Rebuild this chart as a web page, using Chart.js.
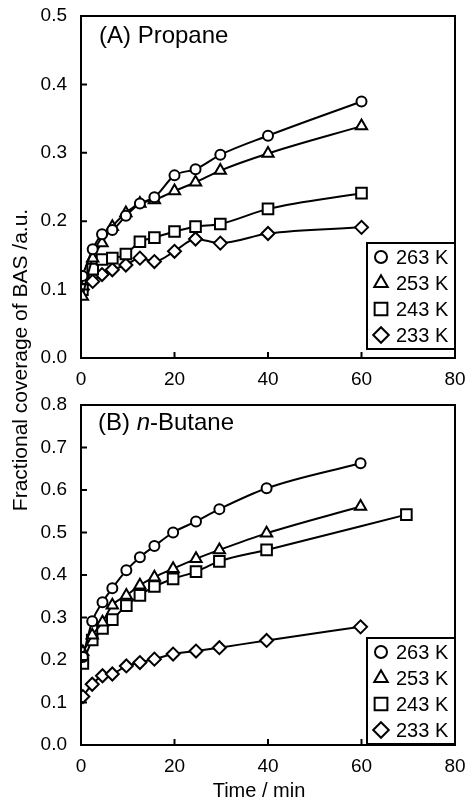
<!DOCTYPE html>
<html>
<head>
<meta charset="utf-8">
<script src="https://cdn.jsdelivr.net/npm/chart.js@4.4.1/dist/chart.umd.min.js"></script>
<style>
  body { margin: 0; background: #fff; }
  #wrap { position: relative; width: 468px; height: 800px; overflow: hidden; font-family: "Liberation Sans", Arial, sans-serif; color: #000; }
  #c1 { position: absolute; left: 0; top: 0; }
  #c2 { position: absolute; left: 0; top: 388px; }
  #ytitle {
    position: absolute; left: -180px; top: 348px; width: 400px; height: 24px;
    line-height: 24px; text-align: center; font-size: 21px;
    transform: rotate(-90deg); white-space: nowrap;
  }
  #xtitle {
    position: absolute; left: 159px; top: 778px; width: 200px; height: 24px;
    line-height: 24px; text-align: center; font-size: 20px; white-space: nowrap;
  }
</style>
</head>
<body>
<div id="wrap">
  <canvas id="c1" width="468" height="388"></canvas>
  <canvas id="c2" width="468" height="412"></canvas>
  <div id="ytitle">Fractional coverage of BAS /a.u.</div>
  <div id="xtitle">Time / min</div>
</div>
<script>
// series labels and marker shapes
const seriesLabels = ['263 K', '253 K', '243 K', '233 K'];
const markerStyles = ['circle', 'triangle', 'rect', 'rectRot'];
const xTicks = [0, 20, 40, 60, 80];

// (A) Propane
const timesA = [0.3, 2.5, 4.5, 6.7, 9.6, 12.6, 15.7, 20, 24.5, 29.8, 40, 60];
const propane263 = [0.120, 0.159, 0.181, 0.187, 0.208, 0.226, 0.235, 0.267, 0.276, 0.297, 0.325, 0.375];
const propane253 = [0.090, 0.146, 0.168, 0.192, 0.212, 0.226, 0.231, 0.244, 0.257, 0.274, 0.299, 0.339];
const propane243 = [0.100, 0.130, 0.144, 0.146, 0.152, 0.170, 0.176, 0.185, 0.192, 0.196, 0.218, 0.241];
const propane233 = [0.100, 0.112, 0.122, 0.129, 0.136, 0.146, 0.141, 0.156, 0.174, 0.168, 0.182, 0.191];
const yTicksA = [0.0, 0.1, 0.2, 0.3, 0.4, 0.5];

// (B) n-Butane
const timesB = [0.4, 2.4, 4.6, 6.7, 9.7, 12.6, 15.7, 19.7, 24.6, 29.6, 39.7, 59.8];
const timesB243 = [0.4, 2.4, 4.6, 6.7, 9.7, 12.6, 15.7, 19.7, 24.6, 29.6, 39.7, 69.6];
const butane263 = [0.207, 0.291, 0.336, 0.369, 0.411, 0.442, 0.468, 0.500, 0.526, 0.555, 0.604, 0.663];
const butane253 = [0.219, 0.258, 0.289, 0.329, 0.352, 0.376, 0.395, 0.415, 0.438, 0.459, 0.498, 0.561];
const butane243 = [0.192, 0.247, 0.274, 0.295, 0.328, 0.352, 0.373, 0.391, 0.408, 0.432, 0.459, 0.542];
const butane233 = [0.114, 0.143, 0.163, 0.167, 0.186, 0.194, 0.202, 0.214, 0.221, 0.229, 0.246, 0.278];
const yTicksB = [0.0, 0.1, 0.2, 0.3, 0.4, 0.5, 0.6, 0.7, 0.8];

const FONT = '"Liberation Sans", Arial, sans-serif';
const markerRadius = { circle: 5, triangle: 6.5, rect: 7.5, rectRot: 6.5 };

function drawMarker(ctx, style, x, y, r) {
  ctx.beginPath();
  if (style === 'circle') {
    ctx.arc(x, y, r, 0, Math.PI * 2);
  } else if (style === 'triangle') {
    ctx.moveTo(x, y - r);
    ctx.lineTo(x + r * 0.866, y + r * 0.5);
    ctx.lineTo(x - r * 0.866, y + r * 0.5);
    ctx.closePath();
  } else if (style === 'rect') {
    const s = r * Math.SQRT1_2;
    ctx.rect(x - s, y - s, 2 * s, 2 * s);
  } else {
    ctx.moveTo(x - r, y);
    ctx.lineTo(x, y - r);
    ctx.lineTo(x + r, y);
    ctx.lineTo(x, y + r);
    ctx.closePath();
  }
  ctx.fillStyle = '#fff';
  ctx.fill();
  ctx.lineWidth = 2;
  ctx.strokeStyle = '#000';
  ctx.stroke();
}

// frame around the plot and short inward tick marks
const frameTicks = {
  id: 'frameTicks',
  afterDraw(chart) {
    const { ctx, chartArea: a, scales } = chart;
    ctx.save();
    ctx.strokeStyle = '#000';
    ctx.lineWidth = 2;
    ctx.strokeRect(a.left, a.top, a.right - a.left, a.bottom - a.top);
    ctx.beginPath();
    scales.x.ticks.forEach(t => {
      const px = scales.x.getPixelForValue(t.value);
      ctx.moveTo(px, a.bottom);
      ctx.lineTo(px, a.bottom - 6);
    });
    scales.y.ticks.forEach(t => {
      const py = scales.y.getPixelForValue(t.value);
      ctx.moveTo(a.left, py);
      ctx.lineTo(a.left + 6, py);
    });
    ctx.stroke();
    ctx.restore();
  }
};

// boxed legend in the lower right corner + panel label
const panelDecor = {
  id: 'panelDecor',
  afterDatasetsDraw(chart, args, opts) {
    const { ctx, chartArea: a } = chart;
    ctx.save();
    const w = 88, h = 106;
    const left = a.right - w, top = a.bottom - opts.gap - h;
    ctx.fillStyle = '#fff';
    ctx.fillRect(left, top, w, h);
    ctx.lineWidth = 2;
    ctx.strokeStyle = '#000';
    ctx.strokeRect(left, top, w, h);
    chart.data.datasets.forEach((ds, i) => {
      const cy = top + 14 + i * 26;
      drawMarker(ctx, ds.pointStyle, left + 14, cy, markerRadius[ds.pointStyle] * 1.2);
      ctx.fillStyle = '#000';
      ctx.font = '20px ' + FONT;
      ctx.textBaseline = 'middle';
      ctx.textAlign = 'left';
      ctx.fillText(ds.label, left + 29, cy + 1);
    });

    // panel title, with italic parts
    let x = a.left + opts.labelDx;
    const y = a.top + opts.labelDy;
    ctx.textBaseline = 'alphabetic';
    opts.label.forEach(part => {
      ctx.font = (part.italic ? 'italic ' : '') + '24px ' + FONT;
      ctx.fillText(part.text, x, y);
      x += ctx.measureText(part.text).width;
    });
    ctx.restore();
  }
};

function makeDatasets(timeLists, valueLists) {
  return valueLists.map((vals, i) => ({
    label: seriesLabels[i],
    data: vals.map((v, j) => ({ x: timeLists[i][j], y: v })),
    borderColor: '#000',
    borderWidth: 2,
    pointStyle: markerStyles[i],
    pointRadius: markerRadius[markerStyles[i]],
    pointBorderWidth: 2,
    pointBackgroundColor: '#fff',
    pointBorderColor: '#000',
    cubicInterpolationMode: 'monotone',
    fill: false
  }));
}

function makePanel(canvasId, datasets, yTicks, opts) {
  return new Chart(document.getElementById(canvasId), {
    type: 'line',
    data: { datasets: datasets },
    plugins: [panelDecor, frameTicks],
    options: {
      responsive: false,
      animation: false,
      layout: { padding: { top: opts.padTop, right: 13, left: 0, bottom: 0 } },
      plugins: {
        legend: { display: false },
        tooltip: { enabled: false },
        panelDecor: { gap: opts.gap, label: opts.label, labelDx: opts.labelDx, labelDy: opts.labelDy }
      },
      scales: {
        x: {
          type: 'linear',
          min: xTicks[0],
          max: xTicks[xTicks.length - 1],
          grid: { display: false, drawTicks: false },
          border: { display: false },
          afterBuildTicks: s => { s.ticks = xTicks.map(v => ({ value: v })); },
          ticks: { color: '#000', font: { family: FONT, size: 19 }, padding: 10, maxRotation: 0 },
          afterFit: s => { s.height = opts.xHeight; s.paddingLeft = 0; s.paddingRight = 0; }
        },
        y: {
          min: yTicks[0],
          max: yTicks[yTicks.length - 1],
          grid: { display: false, drawTicks: false },
          border: { display: false },
          afterBuildTicks: s => { s.ticks = yTicks.map(v => ({ value: v })); },
          ticks: { color: '#000', font: { family: FONT, size: 19 }, padding: 14, callback: v => v.toFixed(1) },
          afterFit: s => { s.width = 81; s.paddingTop = 0; s.paddingBottom = 0; }
        }
      }
    }
  });
}

makePanel('c1',
  makeDatasets([timesA, timesA, timesA, timesA], [propane263, propane253, propane243, propane233]),
  yTicksA,
  { padTop: 16, xHeight: 30, gap: 9, labelDx: 18, labelDy: 27,
    label: [{ text: '(A) Propane' }] });

makePanel('c2',
  makeDatasets([timesB, timesB, timesB243, timesB], [butane263, butane253, butane243, butane233]),
  yTicksB,
  { padTop: 17, xHeight: 55, gap: 1, labelDx: 17, labelDy: 25,
    label: [{ text: '(B) ' }, { text: 'n', italic: true }, { text: '-Butane' }] });
</script>
</body>
</html>
